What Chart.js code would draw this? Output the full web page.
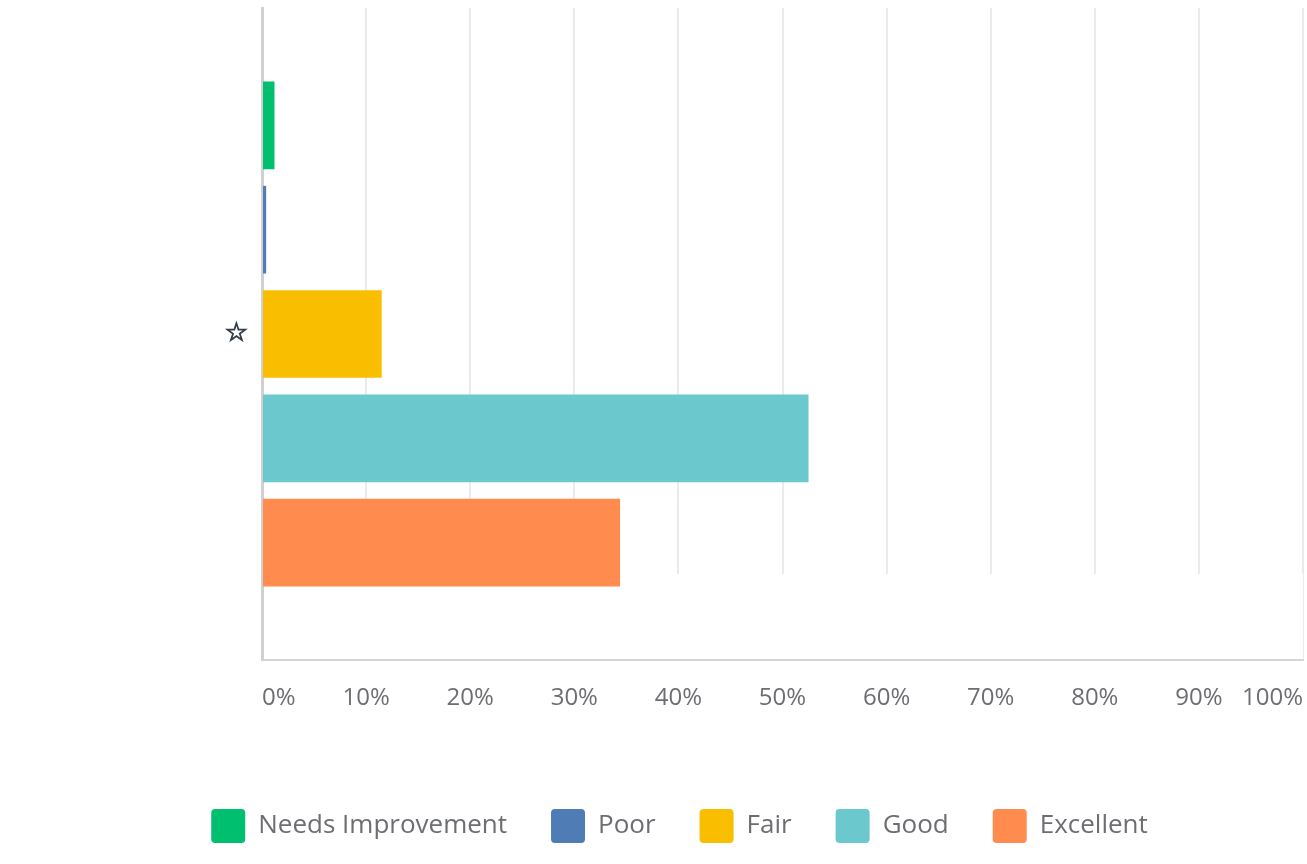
<!DOCTYPE html>
<html lang="en">
<head>
<meta charset="UTF-8">
<title>Rating breakdown</title>
<script src="https://cdn.jsdelivr.net/npm/chart.js@4.4.0/dist/chart.umd.min.js"></script>
<style>
  html, body { margin: 0; padding: 0; background: #fff; }
</style>
</head>
<body>

<canvas id="myChart" width="1307" height="864"></canvas>

<script>
// one category row (the star), one bar per answer choice
var categories = ["\u2606"];
var seriesNames = ["Needs Improvement", "Poor", "Fair", "Good", "Excellent"];
var seriesValues = [[1.2], [0.4], [11.5], [52.5], [34.4]];
var seriesColors = ["#00bf6f", "#507cb6", "#f9be00", "#6bc8cd", "#ff8b4f"];
var xTickValues = [0, 10, 20, 30, 40, 50, 60, 70, 80, 90, 100];

var textGray = "#6d6e71";

var datasets = [];
for (var i = 0; i < seriesNames.length; i++) {
  datasets.push({
    label: seriesNames[i],
    data: seriesValues[i],
    backgroundColor: seriesColors[i],
    borderWidth: 0,
    categoryPercentage: 0.8,
    barPercentage: 0.84
  });
}

// the bottom strip of the plot is blank in the original (no grid lines there)
var blankStrip = {
  id: "blankStrip",
  beforeDatasetsDraw: function (chart) {
    var a = chart.chartArea;
    var c = chart.ctx;
    c.save();
    c.fillStyle = "#ffffff";
    c.fillRect(a.left + 2, a.bottom - 86, a.right - a.left - 2, 85);
    c.restore();
  }
};

var ctx = document.getElementById("myChart");
var myChart = new Chart(ctx, {
  type: "bar",
  data: { labels: categories, datasets: datasets },
  plugins: [blankStrip],
  options: {
    indexAxis: "y",
    responsive: false,
    animation: false,
    layout: { padding: { top: 8, bottom: 11, right: 4, left: 56 } },
    scales: {
      x: {
        min: 0,
        max: 100,
        afterBuildTicks: function (scale) {
          scale.ticks = xTickValues.map(function (v) { return { value: v }; });
        },
        afterFit: function (scale) {
          scale.height = 105;
          scale.paddingLeft = 0;
          scale.paddingRight = 0;
        },
        grid: { color: "#ebebeb", lineWidth: 2, drawTicks: false },
        border: { color: "#d4d4d4", width: 2 },
        ticks: {
          align: "inner",
          padding: 24,
          color: textGray,
          font: { family: "'Open Sans', sans-serif", size: 24 },
          callback: function (v) { return v + "%"; }
        }
      },
      y: {
        afterFit: function (scale) {
          scale.width = 206;
          scale.paddingTop = 0;
          scale.paddingBottom = 0;
        },
        grid: { display: false },
        border: { color: "#d0d0d0", width: 3 },
        ticks: {
          padding: 6,
          color: "#333e48",
          textStrokeColor: "#333e48",
          textStrokeWidth: 1,
          font: { family: "'DejaVu Sans', sans-serif", size: 26 }
        }
      }
    },
    plugins: {
      tooltip: { enabled: false },
      legend: {
        position: "bottom",
        labels: {
          boxWidth: 34,
          boxHeight: 34,
          padding: 44,
          useBorderRadius: true,
          borderRadius: 4,
          color: textGray,
          font: { family: "'Open Sans', sans-serif", size: 26 }
        }
      }
    }
  }
});
</script>

</body>
</html>
